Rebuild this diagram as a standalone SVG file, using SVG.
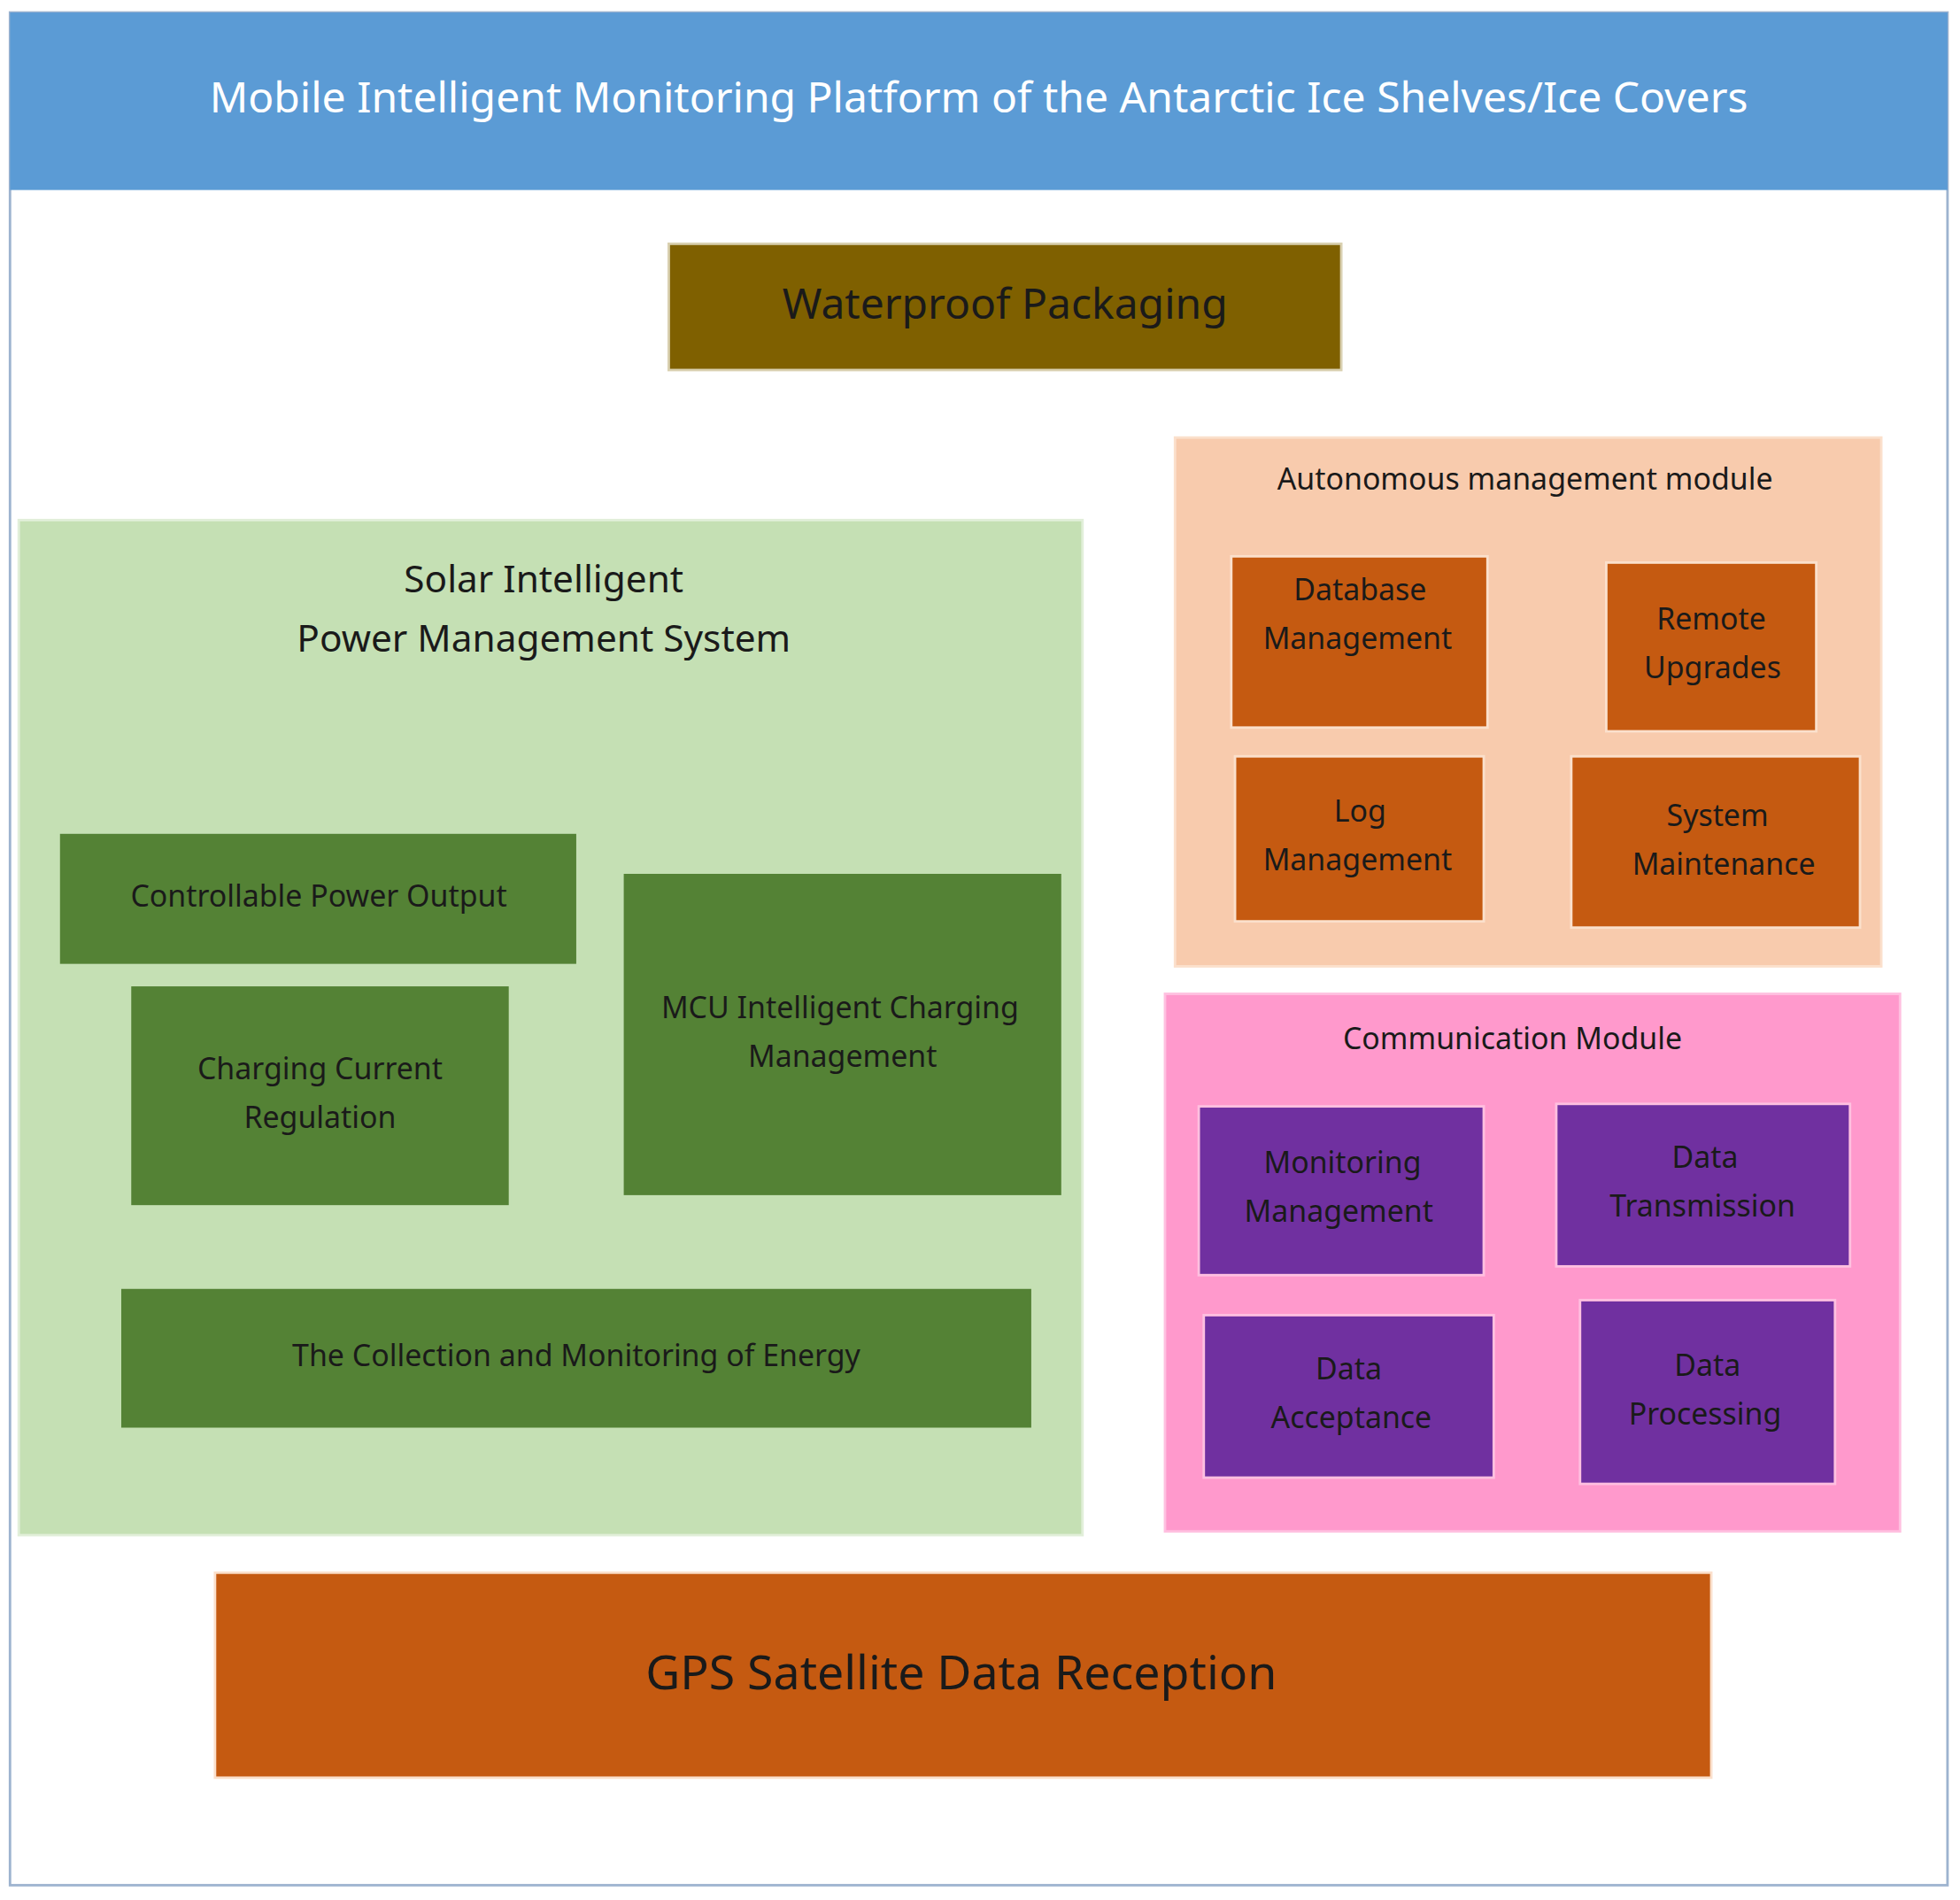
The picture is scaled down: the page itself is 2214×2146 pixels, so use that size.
<svg xmlns="http://www.w3.org/2000/svg" width="2214" height="2146" viewBox="0 0 2214 2146">
<style>
text{font-family:"Noto Sans","Open Sans",sans-serif;fill:#1a1a1a;text-anchor:middle;dominant-baseline:middle}
.g{fill:#548235;stroke:#c5e0b4;stroke-width:2}
.o{fill:#C55A11;stroke:#fbe0cc;stroke-width:2}
.p{fill:#7030A0;stroke:#ffc0e0;stroke-width:2}
.s{font-size:24px}
</style>
<rect width="2214" height="2146" fill="#fff"/>
<g transform="scale(1.412)">
<g id="frame"><rect x="8" y="10" width="1550" height="1498" fill="#fff" stroke="#9db3cf" stroke-width="2"/>
<rect x="8" y="10" width="1550" height="142" fill="#5B9BD5"/>
<text x="783" y="81" font-size="34" style="fill:#fff">Mobile Intelligent Monitoring Platform of the Antarctic Ice Shelves/Ice Covers</text></g>
<g id="waterproof"><rect x="535" y="195" width="538" height="101" fill="#7F6000" stroke="#d9d0b0" stroke-width="2"/><text x="804" y="246" font-size="34">Waterproof Packaging</text></g>
<g id="solar"><rect x="15" y="416" width="851" height="812" fill="#C5E0B4" stroke="#e2efda" stroke-width="2"/>
<text x="435" y="466" font-size="30">Solar Intelligent</text><text x="435" y="513" font-size="30">Power Management System</text></g>
<g id="controllable"><rect class="g" x="47" y="666" width="415" height="106"/><text class="s" x="255" y="719">Controllable Power Output</text></g>
<g id="charging"><rect class="g" x="104" y="788" width="304" height="177"/><text class="s" x="256" y="857">Charging Current</text><text class="s" x="256" y="896">Regulation</text></g>
<g id="mcu"><rect class="g" x="498" y="698" width="352" height="259"/><text class="s" x="672" y="808">MCU Intelligent Charging</text><text class="s" x="674" y="847">Management</text></g>
<g id="collection"><rect class="g" x="96" y="1030" width="730" height="113"/><text class="s" x="461" y="1086">The Collection and Monitoring of Energy</text></g>
<g id="autonomous"><rect x="940" y="350" width="565" height="423" fill="#F8CBAD" stroke="#fbe0cc" stroke-width="2"/><text class="s" x="1220" y="385">Autonomous management module</text></g>
<g id="database"><rect class="o" x="985" y="445" width="205" height="137"/><text class="s" x="1088" y="474">Database</text><text class="s" x="1086" y="513">Management</text></g>
<g id="remote"><rect class="o" x="1285" y="450" width="168" height="135"/><text class="s" x="1369" y="497">Remote</text><text class="s" x="1370" y="536">Upgrades</text></g>
<g id="log"><rect class="o" x="988" y="605" width="199" height="132"/><text class="s" x="1088" y="651">Log</text><text class="s" x="1086" y="690">Management</text></g>
<g id="system"><rect class="o" x="1257" y="605" width="231" height="137"/><text class="s" x="1374" y="654">System</text><text class="s" x="1379" y="693">Maintenance</text></g>
<g id="communication"><rect x="932" y="795" width="588" height="430" fill="#FF99CC" stroke="#ffc0e0" stroke-width="2"/><text class="s" x="1210" y="833">Communication Module</text></g>
<g id="monitoring"><rect class="p" x="959" y="885" width="228" height="135"/><text class="s" x="1074" y="932">Monitoring</text><text class="s" x="1071" y="971">Management</text></g>
<g id="transmission"><rect class="p" x="1245" y="883" width="235" height="130"/><text class="s" x="1364" y="928">Data</text><text class="s" x="1362" y="967">Transmission</text></g>
<g id="acceptance"><rect class="p" x="963" y="1052" width="232" height="130"/><text class="s" x="1079" y="1097">Data</text><text class="s" x="1081" y="1136">Acceptance</text></g>
<g id="processing"><rect class="p" x="1264" y="1040" width="204" height="147"/><text class="s" x="1366" y="1094">Data</text><text class="s" x="1364" y="1133">Processing</text></g>
<g id="gps"><rect x="172" y="1258" width="1197" height="164" fill="#C55A11" stroke="#fbe0cc" stroke-width="2"/><text x="769" y="1341" font-size="38">GPS Satellite Data Reception</text></g>
<g id="connectors"/>
</g>
</svg>
